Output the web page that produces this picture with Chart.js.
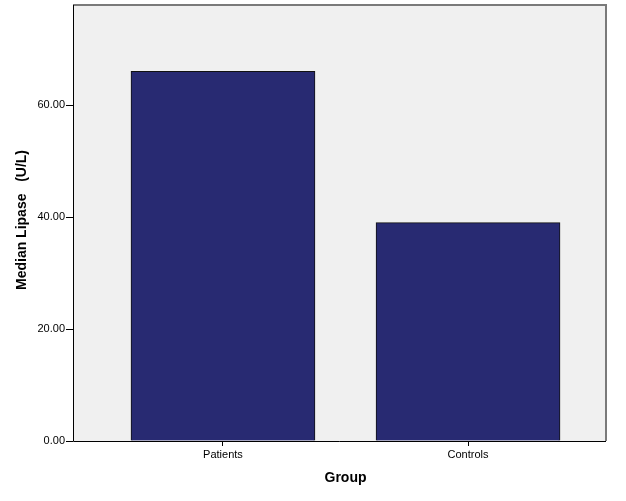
<!DOCTYPE html>
<html>
<head>
<meta charset="utf-8">
<script src="https://cdn.jsdelivr.net/npm/chart.js@4/dist/chart.umd.min.js"></script>
<style>
html,body{margin:0;padding:0;background:#fff;}
#wrap{width:626px;height:501px;position:relative;}
</style>
</head>
<body>
<div id="wrap"><canvas id="c" width="626" height="501"></canvas></div>
<script>
const categories = ["Patients", "Controls"];
const medianLipase = [66.0, 39.0];
const yTicks = [0, 20, 40, 60];
const xTitle = "Group";
const yTitle = "Median Lipase   (U/L)";

const points = categories.map((c, i) => ({x: i, y: medianLipase[i]}));

const framePlugin = {
  id: 'frame',
  beforeDraw(chart) {
    const {ctx, chartArea: a} = chart;
    ctx.save();
    ctx.fillStyle = '#f0f0f0';
    ctx.fillRect(a.left, a.top, a.right - a.left, a.bottom - a.top);
    ctx.restore();
  },
  afterDraw(chart) {
    const {ctx, chartArea: a} = chart;
    ctx.save();
    ctx.strokeStyle = '#7a7a7a';
    ctx.lineWidth = 2;
    ctx.beginPath();
    ctx.moveTo(a.left, a.top);
    ctx.lineTo(a.right, a.top);
    ctx.lineTo(a.right, a.bottom);
    ctx.stroke();
    ctx.strokeStyle = '#000';
    ctx.lineWidth = 1;
    ctx.beginPath();
    ctx.moveTo(a.left + 0.5, a.top);
    ctx.lineTo(a.left + 0.5, a.bottom + 0.5);
    ctx.lineTo(a.right, a.bottom + 0.5);
    ctx.stroke();
    // x title
    const xs = chart.scales.x;
    const cx = (xs.getPixelForValue(0) + xs.getPixelForValue(categories.length - 1)) / 2;
    ctx.fillStyle = '#000';
    ctx.font = 'bold 14px "Liberation Sans", Arial, sans-serif';
    ctx.textAlign = 'center';
    ctx.textBaseline = 'middle';
    ctx.fillText(xTitle, cx, 478);
    // y title
    ctx.translate(22, (a.top + a.bottom) / 2 - 3);
    ctx.rotate(-Math.PI / 2);
    ctx.font = 'bold 14px "Liberation Sans", Arial, sans-serif';
    ctx.fillText(yTitle, 0, 0);
    ctx.restore();
  }
};

new Chart(document.getElementById('c'), {
  type: 'bar',
  data: {
    datasets: [{
      data: points,
      backgroundColor: '#282a72',
      borderColor: '#111111',
      borderWidth: 1,
      borderSkipped: 'bottom',
      barThickness: 184
    }]
  },
  options: {
    responsive: false,
    animation: false,
    events: [],
    layout: {padding: {top: 5, right: 20, left: 0, bottom: 0}},
    plugins: {legend: {display: false}, tooltip: {enabled: false}},
    scales: {
      x: {
        type: 'linear',
        offset: false,
        min: -0.612,
        max: 1.563,
        afterBuildTicks(s) { s.ticks = categories.map((c, i) => ({value: i})); },
        afterFit(s) { s.height = 60; s.paddingLeft = 0; s.paddingRight = 0; },
        grid: {display: true, offset: false, drawOnChartArea: false, tickLength: 5, color: '#000', tickWidth: 1},
        border: {display: false},
        ticks: {
          autoSkip: false,
          maxRotation: 0,
          padding: 2,
          color: '#000',
          font: {family: '"Liberation Sans", Arial, sans-serif', size: 11},
          callback: (v) => categories[v]
        }
      },
      y: {
        min: 0,
        max: 77.86,
        afterBuildTicks(s) { s.ticks = yTicks.map(v => ({value: v})); },
        afterFit(s) { s.width = 73; s.paddingTop = 0; s.paddingBottom = 0; },
        grid: {display: true, drawOnChartArea: false, tickLength: 7, color: '#000', tickWidth: 1},
        border: {display: false},
        ticks: {
          padding: 1,
          color: '#000',
          font: {family: '"Liberation Sans", Arial, sans-serif', size: 11},
          callback: (v) => Number(v).toFixed(2)
        }
      }
    }
  },
  plugins: [framePlugin]
});
</script>
</body>
</html>
